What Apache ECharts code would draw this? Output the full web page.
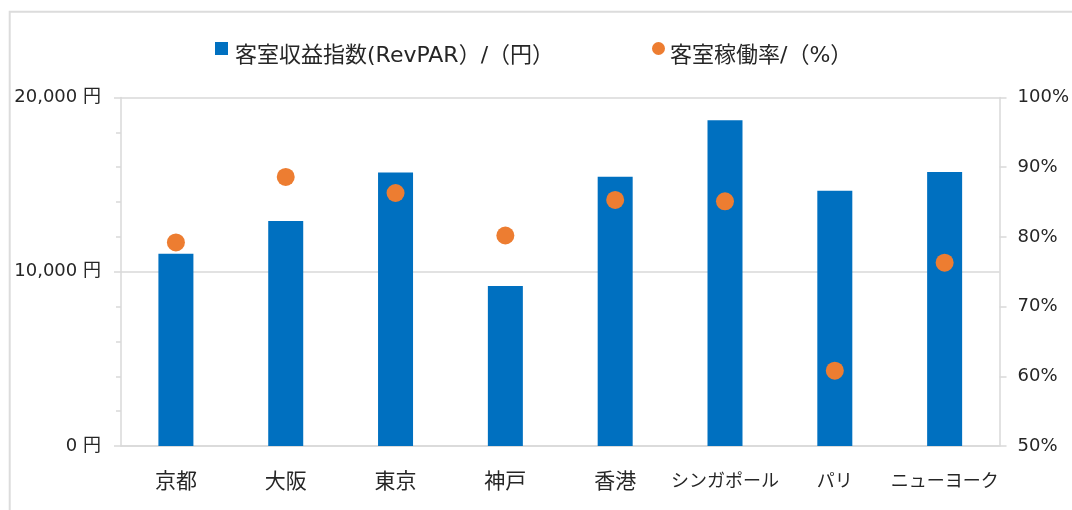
<!DOCTYPE html>
<html>
<head>
<meta charset="utf-8">
<script src="https://cdn.jsdelivr.net/npm/echarts@6/dist/echarts.min.js"></script>
<style>
html,body{margin:0;padding:0;background:#fff;}
#chart{width:1072px;height:510px;}
</style>
</head>
<body>
<div id="chart"></div>
<script>
const categories = ['京都', '大阪', '東京', '神戸', '香港', 'シンガポール', 'パリ', 'ニューヨーク'];
const revparValues = [11030, 12910, 15700, 9180, 15450, 18690, 14650, 15720];
const occupancyValues = [79.2, 88.6, 86.3, 80.2, 85.3, 85.1, 60.8, 76.3];
const seriesNames = ['客室収益指数(RevPAR）/（円）', '客室稼働率/（%）'];
const leftTicks = [0, 10000, 20000];
const rightTicks = [50, 60, 70, 80, 90, 100];

const FONT = '"DejaVu Sans", "Noto Sans CJK JP", sans-serif';
const CJK = '"Noto Sans CJK JP", sans-serif';
const TXT = '#262626';
const GRID = '#d9d9d9';

const chart = echarts.init(document.getElementById('chart'), null, {renderer: 'canvas'});
chart.setOption({
  backgroundColor: '#fff',
  animation: false,
  textStyle: {fontFamily: FONT, color: TXT},
  graphic: [{
    type: 'rect',
    shape: {x: 9.7, y: 11.7, width: 1200, height: 700},
    style: {fill: 'none', stroke: '#dcdcdc', lineWidth: 2},
    silent: true,
    z: -1
  }],
  legend: [{
    left: 215, top: 42, padding: 0,
    itemWidth: 13, itemHeight: 28, itemGap: 0,
    data: [{name: seriesNames[0], icon: 'path://M0,0H13V13H0Z M0,28L13,28'}],
    itemStyle: {borderWidth: 0},
    textStyle: {fontFamily: FONT, fontSize: 22, color: TXT, padding: [0, 0, 0, 2]},
    selectedMode: false
  }, {
    left: 652, top: 42, padding: 0,
    itemWidth: 13, itemHeight: 28, itemGap: 0,
    data: [{name: seriesNames[1], icon: 'path://M6.5,0A6.5,6.5,0,1,1,6.49,0Z M0,28L13,28'}],
    itemStyle: {borderWidth: 0},
    textStyle: {fontFamily: FONT, fontSize: 22, color: TXT, padding: [0, 0, 0, 0]},
    selectedMode: false
  }],
  grid: {left: 121, right: 72, top: 97.5, bottom: 64, containLabel: false},
  xAxis: {
    type: 'category',
    data: categories,
    axisLine: {show: true, lineStyle: {color: GRID, width: 1.5}},
    axisTick: {show: false},
    axisLabel: {
      fontFamily: CJK, fontSize: 21, color: TXT, margin: 24, interval: 0,
      formatter: v => /^[\u30A0-\u30FF]+$/.test(v) ? '{k|' + v + '}' : v,
      rich: {k: {fontFamily: CJK, fontSize: 18, color: TXT, padding: [1, 0, 0, 0]}}
    },
    splitLine: {show: false}
  },
  yAxis: [{
    type: 'value',
    min: leftTicks[0], max: leftTicks[leftTicks.length - 1], interval: 10000,
    axisLine: {show: true, lineStyle: {color: GRID, width: 1.5}},
    axisTick: {show: true, length: 7, lineStyle: {color: GRID, width: 1.5}},
    minorTick: {show: true, splitNumber: 5, length: 5, lineStyle: {color: GRID, width: 1.5}},
    axisLabel: {
      fontFamily: FONT, fontSize: 18, color: TXT, margin: 20,
      formatter: v => v.toLocaleString('en-US') + ' 円'
    },
    splitLine: {show: true, lineStyle: {color: GRID, width: 1.5}}
  }, {
    type: 'value',
    min: rightTicks[0], max: rightTicks[rightTicks.length - 1], interval: 10,
    position: 'right',
    axisLine: {show: true, lineStyle: {color: GRID, width: 1.5}},
    axisTick: {show: true, length: 7, lineStyle: {color: GRID, width: 1.5}},
    axisLabel: {fontFamily: FONT, fontSize: 18, color: TXT, margin: 18, formatter: '{value}%'},
    splitLine: {show: false}
  }],
  series: [{
    name: seriesNames[0],
    type: 'bar',
    yAxisIndex: 0,
    data: revparValues,
    barWidth: 35,
    itemStyle: {color: '#0070c0'},
    z: 2
  }, {
    name: seriesNames[1],
    type: 'scatter',
    yAxisIndex: 1,
    data: occupancyValues,
    symbol: 'circle',
    symbolSize: 18,
    itemStyle: {color: '#ed7d31', opacity: 1},
    z: 3
  }]
});
</script>
</body>
</html>
